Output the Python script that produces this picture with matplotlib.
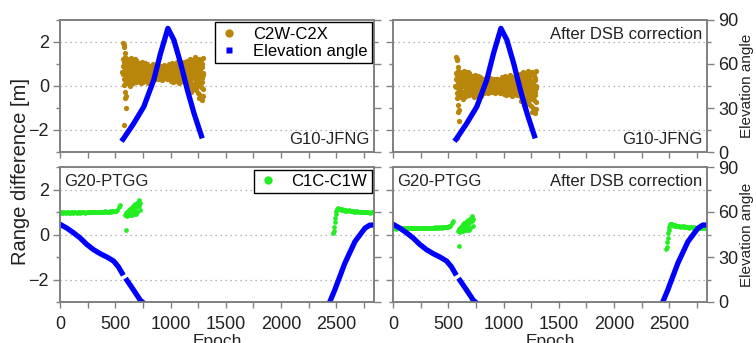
import numpy as np
import matplotlib
matplotlib.use("Agg")
import matplotlib.pyplot as plt
from matplotlib.lines import Line2D
from matplotlib.ticker import MultipleLocator

plt.rcParams['font.family'] = ['Liberation Sans', 'DejaVu Sans']

# ---------------- G10 at JFNG: C2W-C2X range difference [m] ----------------
# two interleaved sampling streams of the same signal
c2_epoch = np.arange(565, 1300, 5)
c2w_c2x = np.array([
    0.62, 1.21, 0.05, 0.88, 0.34, 1.30, 0.71, 0.12, 1.02, 0.45,
    0.93, 0.20, 1.15, 0.58, 0.02, 0.80, 1.28, 0.38, 0.67, 0.15,
    1.08, 0.50, 0.85, 0.25, 1.18, 0.74, 0.30,
    0.95, 0.22, 0.68, 1.05, 0.40, 0.80, 0.12, 0.58, 1.10, 0.33,
    0.75, 0.18, 0.98, 0.52, 0.88, 0.27, 0.63, 1.02, 0.44, 0.15,
    0.70, 0.35, 0.92, 0.55, 0.28, 0.82, 0.62, 0.40, 0.98, 0.48,
    0.75, 0.30, 0.88, 0.58, 0.45, 0.95, 0.66, 0.33, 0.80, 0.52,
    0.72, 0.38, 0.90, 0.60, 0.27, 0.85, 0.50, 0.68, 0.36, 0.94,
    0.57, 0.78, 0.42, 0.63, 0.30, 0.87, 0.54, 0.99, 0.46, 0.73,
    0.25, 0.90, 0.55, 1.05, 0.18, 0.72, 0.40, 0.96, 0.60, 0.22,
    0.85, 0.48, 1.08, 0.33, 0.78, 0.15, 0.65, 0.92, 0.42, 1.00,
    0.28, 0.70, 0.52, 0.88, 0.20, 1.10, 0.58, 0.36, 0.82, 0.45,
    1.15, -0.10, 0.60, 0.95, 0.20, 1.25, 0.40, -0.25, 0.80, 0.05,
    1.05, 0.55, -0.15, 0.90, 0.30, 1.30, 0.70, 0.00, 1.10, 0.45,
    -0.30, 0.85, 0.15, 1.20, 0.62, -0.05, 0.98, 0.35, 1.28, 0.50,
])
c2_epoch_2 = np.arange(567, 1300, 5)
c2w_c2x_2 = np.array([
    0.55, 0.90, 0.30, 1.10, 0.68, 0.10, 0.95, 0.48, 1.25, 0.22,
    0.78, 0.60, 1.00, 0.35, 0.85, 0.08, 0.70, 1.12, 0.42, 0.92,
    0.28, 0.65, 1.22, 0.52, 0.18, 0.88, 1.05,
    0.50, 0.85, 0.30, 0.72, 0.95, 0.20, 0.62, 1.00, 0.45, 0.82,
    0.25, 0.70, 0.55, 1.05, 0.38, 0.78, 0.60, 0.90, 0.32, 0.66,
    0.52, 0.78, 0.64, 0.42, 0.86, 0.58, 0.70, 0.48, 0.80, 0.60,
    0.38, 0.92, 0.55, 0.68, 0.44, 0.82, 0.62, 0.50, 0.74, 0.40,
    0.88, 0.56, 0.66, 0.46, 0.79, 0.60, 0.35, 0.90, 0.53, 0.72,
    0.48, 0.84, 0.65, 0.43, 0.77, 0.58, 0.69, 0.39, 0.81, 0.62,
    0.62, 0.40, 0.80, 0.30, 0.95, 0.55, 0.70, 0.25, 0.88, 0.48,
    1.00, 0.60, 0.35, 0.82, 0.52, 0.98, 0.28, 0.75, 0.62, 0.42,
    0.90, 0.56, 0.32, 1.02, 0.66, 0.46, 0.85, 0.24, 0.72, 0.95,
    0.35, 0.80, 0.10, 1.00, 0.55, 0.25, 1.18, 0.68, -0.05, 0.92,
    0.40, 0.75, 1.12, 0.15, 0.62, 0.95, -0.20, 0.50, 1.05, 0.30,
    0.82, 1.22, 0.08, 0.70, 0.45, 1.10, 0.20, 0.88, -0.12, 0.60,
])
# isolated samples at the start and end of the pass
c2_out_epoch = np.array([567, 575, 582, 588, 591, 600, 596, 576, 585, 1258, 1270, 1285, 1292])
c2_out_val = np.array([1.94, 1.85, 1.79, 1.48, -0.26, -0.47, -1.00, -1.77, -0.56, -0.56, -0.40, -0.62, -0.45])
dsb_c2 = 0.60   # DSB removed in the corrected panel [m]

# elevation of G10 [deg]
g10_epoch = np.array([570, 576, 667, 758, 848, 909, 976, 1030, 1091, 1152, 1212, 1279])
g10_elev = np.array([8.7, 9.3, 19.5, 30.9, 49.1, 67.2, 84.3, 76.4, 60.5, 42.3, 26.4, 11.0])

# ---------------- G20 at PTGG: C1C-C1W range difference [m] ----------------
c1_epoch_a = np.arange(0, 550, 10)
c1c_c1w_a = np.array([
    0.98, 0.97, 0.99, 0.96, 0.98, 0.97, 0.99, 0.98, 0.96, 0.97,
    0.99, 0.98, 0.97, 0.98, 1.00, 0.97, 0.98, 0.99, 0.97, 0.98,
    0.99, 0.98, 1.00, 0.97, 0.99, 0.98, 1.00, 0.99, 0.98, 1.00,
    0.99, 1.01, 0.98, 1.00, 0.99, 1.01, 1.00, 0.99, 1.02, 1.00,
    1.01, 1.03, 1.00, 1.02, 1.01, 1.03, 1.02, 1.04, 1.03, 1.05,
    1.04, 1.06, 1.10, 1.22, 1.32,
])
c1_epoch_b = np.arange(590, 730, 5)
c1c_c1w_b = np.array([
    0.85, 0.95, 0.88, 1.00, 0.82, 1.05, 0.90, 1.10, 0.86, 1.15,
    0.95, 1.20, 0.88, 1.12, 1.25, 0.92, 1.30, 1.05, 1.35, 0.90,
    1.22, 1.40, 1.00, 1.45, 1.28, 1.52, 1.10, 1.38,
])
c1_out_epoch = np.array([600])
c1_out_val = np.array([0.21])
c1_epoch_c = np.array([2470, 2475, 2480, 2485, 2490, 2495, 2500, 2505, 2510,
                       2520, 2530, 2540, 2550, 2560, 2570, 2580, 2590, 2600, 2610,
                       2620, 2630, 2640, 2650, 2660, 2670, 2680, 2690, 2700, 2710,
                       2720, 2730, 2740, 2750, 2760, 2770, 2780, 2790, 2800, 2810,
                       2820, 2830])
c1c_c1w_c = np.array([0.05, 0.15, 0.35, 0.55, 0.75, 0.92, 1.05, 1.15, 1.18,
                      1.15, 1.12, 1.10, 1.12, 1.08, 1.10, 1.06, 1.08, 1.05, 1.07,
                      1.04, 1.06, 1.03, 1.05, 1.02, 1.04, 1.01, 1.03, 1.02, 1.00,
                      1.02, 1.01, 0.99, 1.01, 1.00, 0.98, 1.00, 0.99, 0.97, 0.99,
                      0.98, 0.98])
dsb_c1 = 0.70   # DSB removed in the corrected panel [m]

# elevation of G20 [deg], setting arc and rising arc
g20_epoch_a = np.array([0, 61, 121, 182, 242, 303, 364, 424, 485, 530, 561])
g20_elev_a = np.array([51.8, 49.3, 46.2, 42.7, 38.4, 34.9, 32.2, 30.0, 27.3, 23.3, 19.3])
g20_epoch_b = np.array([606, 667, 727, 745])
g20_elev_b = np.array([14.4, 7.8, 1.1, 0.0])
g20_epoch_c = np.array([2440, 2485, 2576, 2667, 2758, 2803, 2835])
g20_elev_c = np.array([0.0, 8.0, 25.8, 40.2, 49.2, 51.3, 51.3])

GOLD = '#b8860b'
BLUE = '#0000ff'
GREEN = '#22ee22'
SPINE = '#808080'
TXT = '#222222'
TICK_FS = 13

W, H = 756, 343
fig = plt.figure(figsize=(W / 100, H / 100), dpi=100)


def add_panel(x0, y0, x1, y1):
    ax = fig.add_axes([x0 / W, 1 - y1 / H, (x1 - x0) / W, (y1 - y0) / H])
    tw = ax.twinx()
    return ax, tw


def style(ax, tw, left_labels, right_labels, bottom_labels):
    ax.set_xlim(0, 2840)
    ax.set_ylim(-3, 3)
    tw.set_ylim(0, 90)
    ax.xaxis.set_major_locator(MultipleLocator(500))
    ax.xaxis.set_minor_locator(MultipleLocator(250))
    ax.yaxis.set_major_locator(MultipleLocator(2))
    ax.yaxis.set_minor_locator(MultipleLocator(1))
    tw.yaxis.set_major_locator(MultipleLocator(30))
    tw.yaxis.set_minor_locator(MultipleLocator(15))
    ax.grid(axis='y', which='major', ls=(0, (1, 3)), color='#a0a0a0', lw=0.9)
    for a in (ax, tw):
        for s in a.spines.values():
            s.set_color(SPINE)
            s.set_linewidth(1.2)
    ax.tick_params(axis='x', which='both', direction='out', length=4, width=1,
                   color=SPINE, labelsize=TICK_FS, labelcolor=TXT, pad=6,
                   labelbottom=bottom_labels)
    ax.tick_params(axis='y', which='major', direction='out', length=5, width=1,
                   color=SPINE, labelsize=TICK_FS, labelcolor=TXT, pad=3,
                   labelleft=left_labels)
    ax.tick_params(axis='y', which='minor', direction='out', length=3, width=1,
                   color=SPINE)
    tw.tick_params(axis='y', which='major', direction='out', length=5, width=1,
                   color=SPINE, labelsize=TICK_FS, labelcolor=TXT, pad=3,
                   labelright=right_labels)
    tw.tick_params(axis='y', which='minor', direction='out', length=3, width=1,
                   color=SPINE)
    if right_labels:
        bb = ax.get_position()
        fig.text(747.5 / W, bb.y0 + bb.height / 2, 'Elevation angle', rotation=90,
                 ha='center', va='center', fontsize=11, color=TXT)
    if bottom_labels:
        ax.set_xlabel('Epoch', fontsize=12.5, color=TXT, labelpad=0.5)


legend_kw = dict(loc='upper right', frameon=True, fancybox=False, framealpha=1,
                 edgecolor='black', fontsize=12, borderaxespad=0.15,
                 borderpad=0.25, labelspacing=0.15, handlelength=1.2,
                 handletextpad=0.8)

MS = 3.8


def draw_c2(ax, shift):
    ax.plot(c2_epoch, c2w_c2x - shift, 'o', color=GOLD, ms=MS, mec='none')
    ax.plot(c2_epoch_2, c2w_c2x_2 - shift, 'o', color=GOLD, ms=MS, mec='none')
    ax.plot(c2_out_epoch, c2_out_val - shift, 'o', color=GOLD, ms=MS, mec='none')


def draw_c1(ax, shift):
    for ep, val in ((c1_epoch_a, c1c_c1w_a), (c1_epoch_b, c1c_c1w_b),
                    (c1_out_epoch, c1_out_val), (c1_epoch_c, c1c_c1w_c)):
        ax.plot(ep, val - shift, 'o', color=GREEN, ms=3.4, mec='none')


def draw_g20(tw):
    for ep, el in ((g20_epoch_a, g20_elev_a), (g20_epoch_b, g20_elev_b),
                   (g20_epoch_c, g20_elev_c)):
        tw.plot(ep, el, '-', color=BLUE, lw=3.8)


# ---- top left: G10-JFNG raw ----
ax, tw = add_panel(60, 20, 374, 152)
style(ax, tw, True, False, False)
draw_c2(ax, 0.0)
tw.plot(g10_epoch, g10_elev, '-', color=BLUE, lw=3.8)
ax.text(0.985, 0.04, 'G10-JFNG', transform=ax.transAxes, ha='right', va='bottom',
        fontsize=12, color=TXT)
handles = [Line2D([], [], marker='o', ls='none', color=GOLD, ms=6, mec='none'),
           Line2D([], [], marker='s', ls='none', color=BLUE, ms=5, mec='none')]
lg = tw.legend(handles, ['C2W-C2X', 'Elevation angle'], **legend_kw)
lg.get_frame().set_linewidth(1.0)

# ---- top right: G10-JFNG after DSB correction ----
ax, tw = add_panel(393, 20, 707, 152)
style(ax, tw, False, True, False)
draw_c2(ax, dsb_c2)
tw.plot(g10_epoch, g10_elev, '-', color=BLUE, lw=3.8)
ax.text(0.985, 0.04, 'G10-JFNG', transform=ax.transAxes, ha='right', va='bottom',
        fontsize=12, color=TXT)
ax.text(0.985, 0.95, 'After DSB correction', transform=ax.transAxes, ha='right',
        va='top', fontsize=12, color=TXT)

# ---- bottom left: G20-PTGG raw ----
ax, tw = add_panel(60, 167, 374, 302)
style(ax, tw, True, False, True)
draw_c1(ax, 0.0)
draw_g20(tw)
ax.text(0.012, 0.95, 'G20-PTGG', transform=ax.transAxes, ha='left', va='top',
        fontsize=12, color=TXT)
handles = [Line2D([], [], marker='o', ls='none', color=GREEN, ms=6, mec='none')]
lg = tw.legend(handles, ['C1C-C1W'], **legend_kw)
lg.get_frame().set_linewidth(1.0)

# ---- bottom right: G20-PTGG after DSB correction ----
ax, tw = add_panel(393, 167, 707, 302)
style(ax, tw, False, True, True)
draw_c1(ax, dsb_c1)
draw_g20(tw)
ax.text(0.012, 0.95, 'G20-PTGG', transform=ax.transAxes, ha='left', va='top',
        fontsize=12, color=TXT)
ax.text(0.985, 0.95, 'After DSB correction', transform=ax.transAxes, ha='right',
        va='top', fontsize=12, color=TXT)

fig.text(0.027, 0.5, 'Range difference [m]', rotation=90, ha='center',
         va='center', fontsize=14.5, color=TXT)

fig.savefig('out.png', dpi=100)
